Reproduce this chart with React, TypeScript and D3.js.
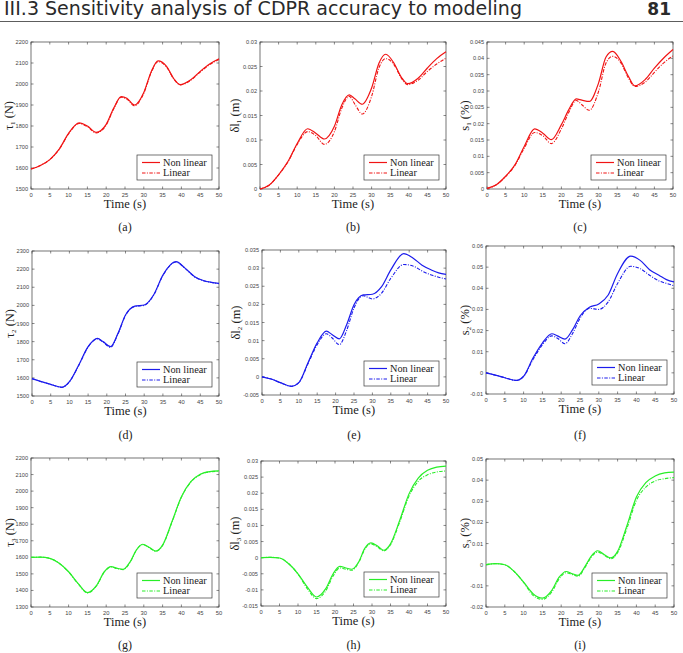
import React from "react";
import * as d3 from "d3";

// Sample times (s) per row of panels
const row1Time = [0, 2.5, 5, 7.5, 10, 12.8, 15, 17.3, 20, 22, 24, 25.5, 27.5, 30, 32, 33.8, 36, 38, 39.7, 42.5, 45, 47.5, 50];
const row2Time = [0, 2.5, 5, 8, 10, 12.5, 15, 17.5, 19, 21, 23, 25, 27.5, 30, 32.5, 35, 38.5, 41, 43.5, 46, 48, 50];
const row3Time = [0, 2.5, 5, 7.5, 10, 12.5, 15, 17.5, 19.5, 21.3, 23, 24.5, 26.5, 28, 29.7, 31.5, 33.2, 35, 37.5, 40, 42.5, 45, 47.5, 50];

// (a) tau1 (N)
const tau1Non = [1595, 1612, 1640, 1690, 1765, 1815, 1800, 1770, 1808, 1885, 1940, 1932, 1900, 1960, 2060, 2110, 2085, 2025, 1997, 2020, 2060, 2095, 2120];
const tau1Lin = [1595, 1612, 1640, 1689, 1763, 1812, 1797, 1767, 1805, 1882, 1937, 1928, 1896, 1956, 2056, 2106, 2082, 2023, 1996, 2018, 2057, 2092, 2117];
// (b) dl1 (m)
const dl1Non = [0, 0.0008, 0.0029, 0.0056, 0.0093, 0.0123, 0.0114, 0.0102, 0.0128, 0.0172, 0.0192, 0.0184, 0.0173, 0.0206, 0.0257, 0.0275, 0.0257, 0.0228, 0.0215, 0.0226, 0.0247, 0.0266, 0.028];
const dl1Lin = [0, 0.0008, 0.0029, 0.0055, 0.0091, 0.0117, 0.0109, 0.0091, 0.0117, 0.0165, 0.0189, 0.0173, 0.0153, 0.0189, 0.0248, 0.0266, 0.0254, 0.0226, 0.0213, 0.0222, 0.024, 0.0255, 0.0267];
// (c) s1 (%)
const s1Non = [0.0002, 0.0013, 0.0039, 0.0074, 0.013, 0.0184, 0.0171, 0.0151, 0.0197, 0.0243, 0.0276, 0.0272, 0.0268, 0.0325, 0.0404, 0.0421, 0.0391, 0.0345, 0.0316, 0.0335, 0.037, 0.0401, 0.0427];
const s1Lin = [0.0002, 0.0013, 0.0038, 0.0072, 0.0125, 0.0173, 0.0163, 0.0139, 0.0184, 0.0235, 0.0271, 0.0258, 0.0241, 0.0299, 0.0386, 0.0406, 0.0386, 0.034, 0.0314, 0.0327, 0.0357, 0.0386, 0.0408];

// (d) tau2 (N)
const tau2Non = [1596, 1579, 1564, 1548, 1579, 1671, 1772, 1818, 1800, 1772, 1846, 1947, 1996, 2002, 2057, 2167, 2241, 2204, 2158, 2136, 2127, 2121];
const tau2Lin = [1595, 1579, 1564, 1548, 1578, 1669, 1770, 1815, 1797, 1769, 1843, 1944, 1994, 2000, 2055, 2165, 2239, 2203, 2157, 2135, 2126, 2120];
// (e) dl2 (m)
const dl2Non = [0, -0.0006, -0.0016, -0.0026, -0.0016, 0.0039, 0.0094, 0.0126, 0.0117, 0.0105, 0.0144, 0.0199, 0.0226, 0.0228, 0.0249, 0.0295, 0.034, 0.0328, 0.0308, 0.0295, 0.0287, 0.0283];
const dl2Lin = [0, -0.0006, -0.0016, -0.0026, -0.0016, 0.0036, 0.0089, 0.0119, 0.0108, 0.0089, 0.0128, 0.019, 0.0224, 0.0215, 0.0231, 0.0272, 0.031, 0.0306, 0.0292, 0.0281, 0.0275, 0.027];
// (f) s2 (%)
const s2Non = [0, -0.0011, -0.0023, -0.0036, -0.0016, 0.007, 0.0141, 0.0185, 0.0175, 0.016, 0.0203, 0.0269, 0.031, 0.0326, 0.0368, 0.047, 0.0552, 0.0532, 0.0488, 0.0462, 0.0441, 0.043];
const s2Lin = [0, -0.0011, -0.0023, -0.0036, -0.0017, 0.0063, 0.0133, 0.0175, 0.0164, 0.0138, 0.0185, 0.0258, 0.0305, 0.03, 0.0336, 0.0423, 0.0504, 0.0493, 0.0462, 0.0435, 0.0423, 0.0412];

// (g) tau3 (N)
const tau3Non = [1600, 1601, 1594, 1564, 1513, 1443, 1387, 1432, 1513, 1544, 1533, 1528, 1578, 1644, 1679, 1659, 1638, 1674, 1816, 1966, 2057, 2102, 2118, 2122];
const tau3Lin = [1600, 1601, 1594, 1564, 1512, 1441, 1385, 1430, 1511, 1542, 1531, 1526, 1576, 1642, 1677, 1657, 1636, 1672, 1813, 1963, 2054, 2099, 2116, 2120];
// (h) dl3 (m)
const dl3Non = [0, 0.0001, -0.0001, -0.0019, -0.005, -0.0091, -0.0122, -0.0096, -0.005, -0.0027, -0.0032, -0.0036, -0.0011, 0.0028, 0.0046, 0.0036, 0.0023, 0.0043, 0.0116, 0.0198, 0.0247, 0.0271, 0.0281, 0.0284];
const dl3Lin = [0, 0.0001, -0.0001, -0.0019, -0.0051, -0.0096, -0.0127, -0.0103, -0.0057, -0.0032, -0.0036, -0.0039, -0.0013, 0.0025, 0.0043, 0.0033, 0.0021, 0.004, 0.0111, 0.0191, 0.0237, 0.0257, 0.0266, 0.0269];
// (i) s3 (%)
const s3Non = [0, 0.0005, 0, -0.0032, -0.0082, -0.0137, -0.0158, -0.0121, -0.0058, -0.0032, -0.0043, -0.005, -0.0003, 0.0041, 0.0066, 0.0047, 0.0032, 0.0063, 0.0186, 0.032, 0.0388, 0.042, 0.0434, 0.0438];
const s3Lin = [0, 0.0005, 0, -0.0032, -0.0084, -0.0145, -0.0164, -0.0129, -0.0066, -0.0038, -0.0047, -0.0054, -0.0008, 0.0036, 0.006, 0.0044, 0.0028, 0.0057, 0.0173, 0.0304, 0.0367, 0.0396, 0.0407, 0.0412];

const xTicks = d3.range(0, 51, 5);
const legendLabels = ["Non linear", "Linear"];

const RED = "#f01414";
const BLUE = "#1c1cec";
const GREEN = "#28ee28";

const panels = [
  { tag: "(a)", t: row1Time, non: tau1Non, lin: tau1Lin, dom: [1500, 2200], step: 100, color: RED, sym: "τ", idx: "1", unit: "(N)", box: [31, 42, 219, 189], lab: 18 },
  { tag: "(b)", t: row1Time, non: dl1Non, lin: dl1Lin, dom: [0, 0.03], step: 0.005, color: RED, sym: "δl", idx: "1", unit: " (m)", box: [260, 42, 446, 189], lab: 21 },
  { tag: "(c)", t: row1Time, non: s1Non, lin: s1Lin, dom: [0, 0.045], step: 0.005, color: RED, sym: "s", idx: "1", unit: " (%)", box: [487, 42, 673, 189], lab: 18 },
  { tag: "(d)", t: row2Time, non: tau2Non, lin: tau2Lin, dom: [1500, 2300], step: 100, color: BLUE, sym: "τ", idx: "2", unit: "(N)", box: [32, 251, 219, 396], lab: 18 },
  { tag: "(e)", t: row2Time, non: dl2Non, lin: dl2Lin, dom: [-0.005, 0.035], step: 0.005, color: BLUE, sym: "δl", idx: "2", unit: " (m)", box: [262, 250, 446, 395], lab: 22 },
  { tag: "(f)", t: row2Time, non: s2Non, lin: s2Lin, dom: [-0.01, 0.06], step: 0.01, color: BLUE, sym: "s", idx: "2", unit: " (%)", box: [486, 246, 674, 394], lab: 17 },
  { tag: "(g)", t: row3Time, non: tau3Non, lin: tau3Lin, dom: [1300, 2200], step: 100, color: GREEN, sym: "τ", idx: "3", unit: "(N)", box: [31, 458, 219, 607], lab: 17 },
  { tag: "(h)", t: row3Time, non: dl3Non, lin: dl3Lin, dom: [-0.015, 0.03], step: 0.005, color: GREEN, sym: "δl", idx: "3", unit: " (m)", box: [261, 461, 446, 606], lab: 22 },
  { tag: "(i)", t: row3Time, non: s3Non, lin: s3Lin, dom: [-0.02, 0.05], step: 0.01, color: GREEN, sym: "s", idx: "3", unit: " (%)", box: [486, 459, 674, 607], lab: 17 },
];

const captionY = [227, 435, 645];
const fmt = (v: number) => String(Math.round(v * 1e6) / 1e6);
const DASH = "3.5,1.4,1,1.4";

function Panel({ p, row }: { p: any; row: number }) {
  const [x0, y0, x1, y1] = p.box;
  const x = d3.scaleLinear().domain([0, 50]).range([x0, x1]);
  const y = d3.scaleLinear().domain(p.dom).range([y1, y0]);
  const yTicks = d3.range(p.dom[0], p.dom[1] + p.step / 2, p.step);
  const line = (vals: number[]) =>
    d3
      .line<number>()
      .x((_, i) => x(p.t[i]))
      .y((v) => y(v))
      .curve(d3.curveMonotoneX)(vals) || "";
  const tl = 2.5;
  const cx = (x0 + x1) / 2;
  const cy = (y0 + y1) / 2;
  const lgW = 75;
  const lgH = 25;
  const lgX = x1 - 7 - lgW;
  const lgY = y1 - 9 - lgH;
  const labelX = x0 - p.lab;
  return (
    <g>
      <defs>
        <clipPath id={"clip" + p.tag}>
          <rect x={x0} y={y0} width={x1 - x0} height={y1 - y0} />
        </clipPath>
      </defs>
      <rect x={x0} y={y0} width={x1 - x0} height={y1 - y0} fill="#fff" stroke="#3a3a3a" strokeWidth={0.7} />
      {xTicks.map((v) => (
        <g key={"x" + v}>
          <line x1={x(v)} x2={x(v)} y1={y1} y2={y1 - tl} stroke="#3a3a3a" strokeWidth={0.6} />
          <line x1={x(v)} x2={x(v)} y1={y0} y2={y0 + tl} stroke="#3a3a3a" strokeWidth={0.6} />
          <text x={x(v)} y={y1 + 8} fontSize={5.8} fill="#444" textAnchor="middle" fontFamily="Liberation Sans, Arial, sans-serif">
            {v}
          </text>
        </g>
      ))}
      {yTicks.map((v) => (
        <g key={"y" + v}>
          <line x1={x0} x2={x0 + tl} y1={y(v)} y2={y(v)} stroke="#3a3a3a" strokeWidth={0.6} />
          <line x1={x1} x2={x1 - tl} y1={y(v)} y2={y(v)} stroke="#3a3a3a" strokeWidth={0.6} />
          <text x={x0 - 3} y={y(v) + 2} fontSize={5.6} fill="#444" textAnchor="end" fontFamily="Liberation Sans, Arial, sans-serif">
            {fmt(v)}
          </text>
        </g>
      ))}
      <g clipPath={`url(#clip${p.tag})`}>
        <path d={line(p.lin)} fill="none" stroke={p.color} strokeWidth={1.1} strokeDasharray={DASH} />
        <path d={line(p.non)} fill="none" stroke={p.color} strokeWidth={1.2} />
      </g>
      {/* legend */}
      <rect x={lgX} y={lgY} width={lgW} height={lgH} fill="#fff" stroke="#3a3a3a" strokeWidth={0.7} />
      {legendLabels.map((lab, i) => (
        <g key={lab}>
          <line
            x1={lgX + 5}
            x2={lgX + 23}
            y1={lgY + 7.5 + i * 10.5}
            y2={lgY + 7.5 + i * 10.5}
            stroke={p.color}
            strokeWidth={1.2}
            strokeDasharray={i === 1 ? DASH : undefined}
          />
          <text x={lgX + 26} y={lgY + 10.8 + i * 10.5} fontSize={10.3} fill="#222" fontFamily="Liberation Serif, Times New Roman, serif">
            {lab}
          </text>
        </g>
      ))}
      <text x={cx} y={y1 + 19} fontSize={12.5} fill="#222" textAnchor="middle" fontFamily="Liberation Serif, Times New Roman, serif">
        Time (s)
      </text>
      <text
        transform={`translate(${labelX},${cy}) rotate(-90)`}
        fontSize={12.5}
        fill="#222"
        textAnchor="middle"
        fontFamily="Liberation Serif, Times New Roman, serif"
      >
        {p.sym}
        <tspan fontSize={7} dy={2}>
          {p.idx}
        </tspan>
        <tspan dy={-2}>{" " + p.unit.trim()}</tspan>
      </text>
      <text x={cx} y={captionY[row] + 4} fontSize={12} fill="#222" textAnchor="middle" fontFamily="Liberation Serif, Times New Roman, serif">
        {p.tag}
      </text>
    </g>
  );
}

export default function App() {
  return (
    <svg width={683} height={653} style={{ position: "absolute", left: 0, top: 0, background: "#fff" }}>
      <rect width={683} height={653} fill="#fff" />
      <text x={4} y={15} fontSize={19} fill="#2a2a2a" fontFamily="DejaVu Sans, sans-serif" textLength={518} lengthAdjust="spacingAndGlyphs">
        III.3 Sensitivity analysis of CDPR accuracy to modeling
      </text>
      <text x={671} y={15} fontSize={17} fontWeight="bold" fill="#2a2a2a" textAnchor="end" fontFamily="DejaVu Sans, sans-serif">
        81
      </text>
      <line x1={0} x2={683} y1={21.5} y2={21.5} stroke="#333" strokeWidth={0.8} />
      {panels.map((p, i) => (
        <Panel key={p.tag} p={p} row={Math.floor(i / 3)} />
      ))}
    </svg>
  );
}
